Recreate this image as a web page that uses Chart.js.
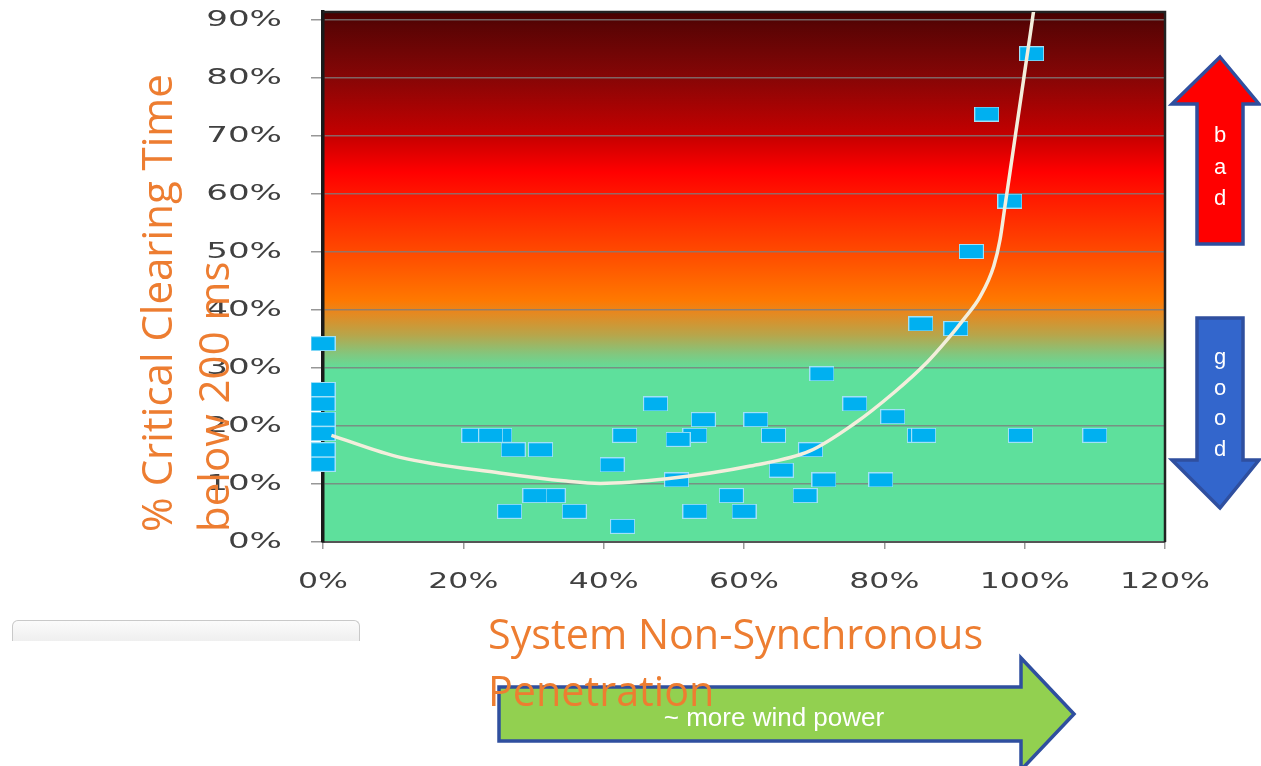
<!DOCTYPE html>
<html>
<head>
<meta charset="utf-8">
<script src="https://cdn.jsdelivr.net/npm/chart.js@4/dist/chart.umd.min.js"></script>
<style>
html,body{margin:0;padding:0;background:#ffffff;}
#wrap{position:relative;width:1261px;height:766px;overflow:hidden;background:#fff;}
#c{position:absolute;left:0;top:0;}
#arrows{position:absolute;left:0;top:0;}
.ov{position:absolute;white-space:nowrap;}
#ytitle{left:127px;top:532px;transform-origin:0 0;transform:rotate(-90deg);font-family:"Open Sans",sans-serif;font-size:42px;line-height:57px;color:#ED7D31;}
#xtitle{left:488px;top:605px;font-family:"Open Sans",sans-serif;font-size:41.3px;line-height:56.5px;color:#ED7D31;}
#bad{left:1200px;top:119px;width:40px;text-align:center;font-family:"Liberation Sans",Arial,sans-serif;font-size:22px;line-height:31.5px;color:#fff;}
#good{left:1200px;top:342px;width:40px;text-align:center;font-family:"Liberation Sans",Arial,sans-serif;font-size:22px;line-height:30.5px;color:#fff;}
#wind{left:654px;top:703px;width:240px;text-align:center;font-family:"Liberation Sans",Arial,sans-serif;font-size:26px;line-height:28px;color:#fff;}
#graybox{position:absolute;left:12px;top:620px;width:346px;height:20px;border:1px solid #c9c9c9;border-bottom:none;border-radius:6px 6px 0 0;background:linear-gradient(#fbfbfb,#efefef);}
</style>
</head>
<body>
<div id="wrap">
  <canvas id="c" width="1261" height="766"></canvas>
  <div id="graybox"></div>
  <svg id="arrows" width="1261" height="766" viewBox="0 0 1261 766">
    <polygon points="1220,57 1259,104 1243,104 1243,244 1197,244 1197,104 1172,104" fill="#FF0000" stroke="#2F4F9F" stroke-width="3.5"/>
    <polygon points="1197,318 1243,318 1243,460 1259,460 1220,508 1172,460 1197,460" fill="#3366CC" stroke="#2F4F9F" stroke-width="3.5"/>
    <polygon points="499,687 1021,687 1021,658 1074,714 1021,770 1021,741 499,741" fill="#92D050" stroke="#2F4F9F" stroke-width="3.5"/>
  </svg>
  <div class="ov" id="bad">b<br>a<br>d</div>
  <div class="ov" id="good">g<br>o<br>o<br>d</div>
  <div class="ov" id="wind">~ more wind power</div>
  <div class="ov" id="ytitle">% Critical Clearing Time<br>below 200 ms</div>
  <div class="ov" id="xtitle">System Non-Synchronous<br>Penetration</div>
</div>
<script>
// ---- data (percent units) ----
const pointX = [0,0,0,0,0,0,0, 21.5,25.2,23.9, 27.1,31.0, 32.8,30.2, 26.6,35.8, 41.2,43.0,42.7,
  47.4,53.0,50.6,50.4,54.2,53.0, 58.2,60.0,61.7,64.2,65.3,
  68.7,69.5,71.4,71.1,75.8,79.5,81.2, 85.0,85.6,85.2,90.2,92.4,97.9,94.6,101.0,99.4,110.0];
const pointY = [34.2,26.3,23.8,21.2,18.7,15.9,13.4, 18.4,18.4,18.4, 15.9,15.9, 8.0,8.0, 5.3,5.3, 13.3,18.4,2.7,
  23.8,18.4,17.7,10.7,21.1,5.3, 8.0,5.3,21.1,18.4,12.4,
  8.0,15.9,10.7,29.0,23.8,10.7,21.6, 18.4,18.4,37.6,36.8,50.1,58.8,73.8,84.2,18.4,18.4];
const trendX = [1.2,11,25.2,34.7,39.5,49,60.9,69.4,75.6,81.3,86.1,88.9,91.3,93.7,95.6,96.5,97.2,97.9,98.6,99.6,100.3,100.8,101.3];
const trendY = [18.4,14.6,11.9,10.5,10.1,10.9,13.1,15.7,20.3,25.7,31.0,34.8,38.4,42.4,47.6,52.2,58.0,63.7,69.5,77.7,83.5,87.6,91.8];
const xTicks = [0,20,40,60,80,100,120];
const yTicks = [0,10,20,30,40,50,60,70,80,90];

// ---- marker (blue rectangle) ----
const marker = document.createElement('canvas');
marker.width = 25; marker.height = 15;
(function(){
  const m = marker.getContext('2d');
  m.fillStyle = '#00B0F0';
  m.fillRect(0,0,25,15);
  m.strokeStyle = 'rgba(170,228,248,0.95)';
  m.lineWidth = 1;
  m.strokeRect(0.5,0.5,24,14);
})();

function stretchLabels(sx){
  return function(scale){
    if (scale.$stretched) return;
    scale.$stretched = true;
    const orig = scale.drawLabels;
    scale.drawLabels = function(area){
      const ctx = this.ctx;
      const proto = Object.getPrototypeOf(ctx);
      ctx.rotate = function(a){ proto.rotate.call(ctx, a); proto.scale.call(ctx, sx, 1); };
      try { orig.call(this, area); } finally { delete ctx.rotate; }
    };
  };
}

const bgPlugin = {
  id: 'bgPlugin',
  beforeDraw(chart){
    const {ctx, chartArea: a} = chart;
    const g = ctx.createLinearGradient(0, a.top, 0, a.bottom);
    g.addColorStop(0.000, '#460000');
    g.addColorStop(0.025, '#5a0404');
    g.addColorStop(0.125, '#870606');
    g.addColorStop(0.232, '#c40000');
    g.addColorStop(0.302, '#ff0000');
    g.addColorStop(0.355, '#ff1c00');
    g.addColorStop(0.453, '#ff4a00');
    g.addColorStop(0.543, '#ff7800');
    g.addColorStop(0.566, '#e8871e');
    g.addColorStop(0.609, '#b8a54a');
    g.addColorStop(0.647, '#80c880');
    g.addColorStop(0.675, '#5ee09c');
    g.addColorStop(1.000, '#5ee09c');
    ctx.save();
    ctx.fillStyle = g;
    ctx.fillRect(a.left, a.top, a.right - a.left, a.bottom - a.top);
    ctx.restore();
  },
  beforeDatasetsDraw(chart){
    const {ctx, chartArea: a} = chart;
    ctx.save();
    ctx.strokeStyle = '#222';
    ctx.lineWidth = 2.5;
    ctx.beginPath();
    ctx.moveTo(a.left, a.top);
    ctx.lineTo(a.right, a.top);
    ctx.lineTo(a.right, a.bottom);
    ctx.stroke();
    ctx.restore();
  }
};

new Chart(document.getElementById('c'), {
  type: 'scatter',
  data: {
    datasets: [
      {
        label: 'Trend',
        data: trendX.map((x, i) => ({x, y: trendY[i]})),
        showLine: true,
        borderColor: '#F3EEDC',
        borderWidth: 3.5,
        pointRadius: 0,
        cubicInterpolationMode: 'monotone',
        order: 0,
        clip: 0
      },
      {
        label: 'Cases',
        data: pointX.map((x, i) => ({x, y: pointY[i]})),
        pointStyle: marker,
        pointRadius: 8,
        order: 1,
        clip: false
      }
    ]
  },
  options: {
    responsive: false,
    animation: false,
    events: [],
    layout: { padding: { left: 0, right: 96, top: 12, bottom: 0 } },
    plugins: { legend: { display: false }, tooltip: { enabled: false } },
    scales: {
      x: {
        type: 'linear', min: 0, max: 120,
        afterBuildTicks(s){ s.ticks = xTicks.map(v => ({value: v})); },
        afterFit(s){ s.height = 224; s.paddingLeft = 0; s.paddingRight = 0; },
        afterUpdate: stretchLabels(1.5),
        grid: { drawOnChartArea: false, drawTicks: true, tickLength: 7, color: '#9a9a9a', lineWidth: 1.5 },
        border: { display: true, color: '#555', width: 2 },
        ticks: {
          padding: 21,
          color: '#404040',
          font: { family: 'DejaVu Sans', size: 21 },
          callback: v => v + '%'
        }
      },
      y: {
        type: 'linear', min: 0, max: 91.4,
        afterBuildTicks(s){ s.ticks = yTicks.map(v => ({value: v})); },
        afterFit(s){ s.width = 323; s.paddingTop = 0; s.paddingBottom = 0; },
        afterUpdate: stretchLabels(1.55),
        grid: { drawOnChartArea: true, drawTicks: true, tickLength: 12, color: 'rgba(125,125,125,0.8)', lineWidth: 1.5 },
        border: { display: true, color: '#1a1a1a', width: 3.5 },
        ticks: {
          padding: 29,
          color: '#404040',
          font: { family: 'DejaVu Sans', size: 22 },
          callback: v => v + '%'
        }
      }
    }
  },
  plugins: [bgPlugin]
});
</script>
</body>
</html>
